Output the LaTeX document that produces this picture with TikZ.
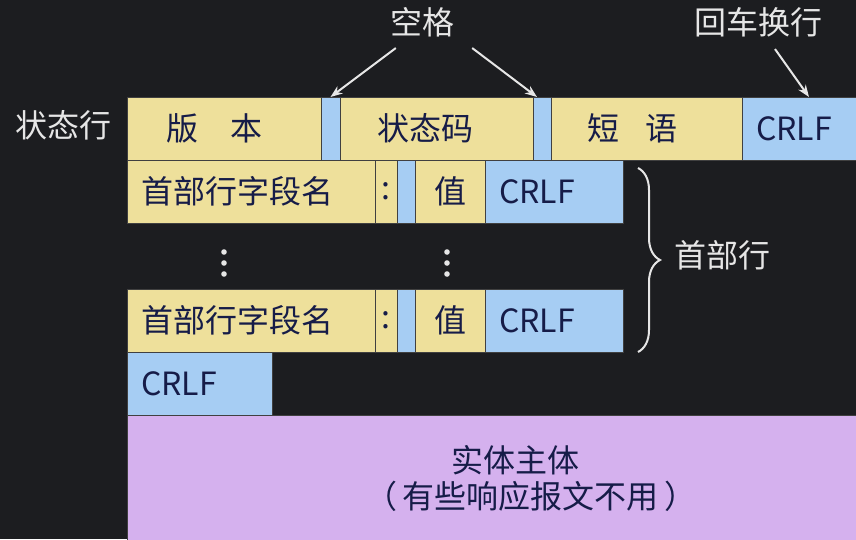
\documentclass[tikz,border=0pt]{standalone}
\usepackage{fontspec}
\newfontfamily\cjk{Noto Sans CJK SC}
\usetikzlibrary{arrows.meta,positioning,decorations.pathreplacing}
\definecolor{bg}{RGB}{28,29,32}
\definecolor{fieldyellow}{RGB}{238,224,155}
\definecolor{fieldblue}{RGB}{166,205,243}
\definecolor{bodypurple}{RGB}{213,177,238}
\definecolor{ink}{RGB}{22,28,72}
\definecolor{chalk}{RGB}{230,230,230}

\begin{document}
\begin{tikzpicture}[x=1pt, y=-1pt, font=\cjk\fontsize{32}{36}\selectfont,
    field/.style={draw=black!75, line width=0.6pt, inner sep=0pt, outer sep=0pt, minimum height=63pt, text=ink},
    yfield/.style={field, fill=fieldyellow},
    bfield/.style={field, fill=fieldblue},
    crlf/.style={bfield, align=left, inner xsep=14pt},
    tag/.style={text=chalk, inner sep=1pt},
    arr/.style={draw=chalk, line width=2pt, -{Stealth[length=12pt, width=9pt]}}]
            % background
            \useasboundingbox(0,0)rectangle(856,539);
            \clip(0,0)rectangle(856,539);
            \fill[bg](0,0)rectangle(856,539);
            % status line
            \node[tag](st)at(63,125){状态行};
            \node[yfield, minimum width=194pt, anchor=north west](ver)at(127,97){版\hspace{1em}本\hspace*{20pt}};
            \node[bfield, minimum width=19pt, right=0pt of ver](sp1){};
            \node[yfield, minimum width=193pt, right=0pt of sp1](code){状态码\hspace*{22pt}};
            \node[bfield, minimum width=18pt, right=0pt of code](sp2){};
            \node[yfield, minimum width=191pt, right=0pt of sp2](phr){短\hspace{0.8em}语\hspace*{28pt}};
            \node[crlf, text width=100pt, right=0pt of phr](crlf1){CRLF};
            % labels above
            \node[tag](kg)at(422,22){空格};
            \node[tag](hc)at(758,22){回车换行};
            \path[arr]([shift={(7,10)}]kg.south west)to(sp1.north);
            \path[arr]([shift={(17,10)}]kg.south east)to([xshift=-5]sp2.north);
            \path[arr]([shift={(17,11)}]hc.south)to([xshift=3]crlf1.north);
            % first header line
            \node[yfield, text width=220pt, align=left, inner xsep=14pt, anchor=north west](name1)at(127,160){首部行字段名};
            \node[yfield, minimum width=22pt, right=0pt of name1](col1){:};
            \node[bfield, minimum width=18pt, right=0pt of col1](gap1){};
            \node[yfield, minimum width=70pt, right=0pt of gap1](val1){值};
            \node[crlf, text width=110pt, right=0pt of val1](crlf2){CRLF};
            % dots
            \foreach \y in {252,263,274}{
              \fill[chalk](224,\y)circle(2.8pt);
              \fill[chalk](447,\y)circle(2.8pt);
            }
            % last header line
            \node[yfield, text width=220pt, align=left, inner xsep=14pt, anchor=north west](name2)at(127,289){首部行字段名};
            \node[yfield, minimum width=22pt, right=0pt of name2](col2){:};
            \node[bfield, minimum width=18pt, right=0pt of col2](gap2){};
            \node[yfield, minimum width=70pt, right=0pt of gap2](val2){值};
            \node[crlf, text width=110pt, right=0pt of val2](crlf3){CRLF};
            % brace
            \coordinate(bt)at(638,168);
            \coordinate(bb)at(638,352);
            \path[draw=chalk, line width=2pt, decorate, decoration={brace, amplitude=22pt}](bt)to(bb);
            \node[tag, anchor=west](hdr)at(673,255){首部行};
            % empty line and body
            \node[crlf, text width=117pt, below=0pt of name2.south west, anchor=north west](crlf4){CRLF};
            \node[field, fill=bodypurple, minimum width=776pt, minimum height=126pt, align=center,
                  below=0pt of crlf4.south west, anchor=north west](body){实体主体\\\hspace*{1em}（\,有些响应报文不用\,）};
        \end{tikzpicture}
\end{document}
